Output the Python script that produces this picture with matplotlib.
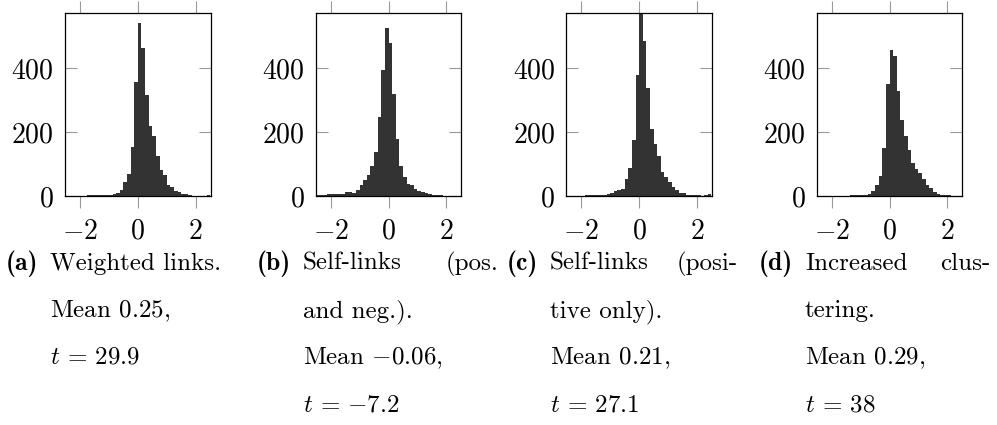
import numpy as np
import matplotlib
matplotlib.use("Agg")
import matplotlib.pyplot as plt

plt.rcParams['mathtext.fontset'] = 'cm'
plt.rcParams['font.family'] = 'cmr10'
plt.rcParams['axes.unicode_minus'] = False

# histogram bins (shared by all four panels)
bin_edges = np.linspace(-2.5, 2.5, 41)

counts_a = [1, 1, 2, 1, 1, 2, 4, 4, 3, 3, 3, 4, 5, 7, 10, 19, 44, 71, 154, 358,
            541, 463, 317, 220, 188, 125, 82, 68, 34, 30, 16, 13, 7, 6, 4, 2, 2, 1, 2, 5]
counts_b = [5, 3, 3, 8, 8, 7, 7, 7, 13, 13, 10, 20, 35, 52, 68, 96, 138, 248, 396, 527,
            478, 319, 178, 94, 61, 40, 35, 24, 18, 14, 9, 6, 5, 4, 3, 2, 2, 2, 1, 1]
counts_c = [2, 2, 2, 2, 2, 3, 3, 4, 4, 4, 4, 6, 11, 18, 21, 23, 54, 87, 177, 380,
            600, 485, 337, 209, 162, 126, 76, 59, 44, 28, 20, 11, 9, 5, 4, 3, 3, 2, 3, 6]
counts_d = [2, 2, 2, 2, 2, 2, 2, 2, 2, 3, 3, 3, 4, 5, 7, 18, 35, 65, 152, 352,
            456, 440, 328, 240, 188, 146, 105, 85, 72, 54, 35, 25, 15, 6, 4, 3, 3, 2, 2, 2]
all_counts = [counts_a, counts_b, counts_c, counts_d]

x_ticks = [-2, 0, 2]
y_ticks = [0, 200, 400]

sub_labels = ['(a)', '(b)', '(c)', '(d)']
first_lines = [['Weighted links.'], ['Self-links', '(pos.'],
               ['Self-links', '(posi-'], ['Increased', 'clus-']]
other_lines = [['Mean $0.25$,', r'$t\,=\,29.9$'],
               ['and neg.).', 'Mean $-0.06$,', r'$t\,=\,{-7.2}$'],
               ['tive only).', 'Mean $0.21$,', r'$t\,=\,27.1$'],
               ['tering.', 'Mean $0.29$,', r'$t\,=\,38$']]

W, H = 997, 425
fig = plt.figure(figsize=(W / 100, H / 100), dpi=100)

ax_left = [65, 315.7, 566.3, 816.7]
text_left = [50, 303, 550, 805]
text_right = [222, 498, 738, 990]
ax_top, ax_bot, ax_w = 13.3, 196.3, 145.7

for i, counts in enumerate(all_counts):
    ax = fig.add_axes([ax_left[i] / W, 1 - ax_bot / H, ax_w / W, (ax_bot - ax_top) / H])
    ax.bar(bin_edges[:-1], counts, width=np.diff(bin_edges), align='edge',
           color='#333333', linewidth=0)
    ax.set_xlim(-2.52, 2.52)
    ax.set_ylim(0, 572)
    ax.set_xticks(x_ticks)
    ax.set_xticklabels(['$%d$' % v for v in x_ticks])
    ax.set_yticks(y_ticks)
    ax.set_yticklabels(['$%d$' % v for v in y_ticks])
    ax.tick_params(axis='x', direction='out', top=True, length=8.4, width=0.8,
                   color='#999999', labelsize=20, pad=7.5)
    ax.tick_params(axis='y', direction='in', right=True, length=8.4, width=0.8,
                   color='#999999', labelsize=20, pad=8)
    for s in ax.spines.values():
        s.set_linewidth(0.9)
        s.set_color('black')

    # caption below the panel
    base = 270
    step = 47
    fig.text((text_left[i] - 12) / W, 1 - base / H, sub_labels[i], family='cmb10',
             fontsize=18.5, ha='right', va='baseline')
    words = first_lines[i]
    fig.text(text_left[i] / W, 1 - base / H, words[0], fontsize=18, ha='left', va='baseline')
    if len(words) > 1:
        fig.text(text_right[i] / W, 1 - base / H, words[1], fontsize=18,
                 ha='right', va='baseline')
    for j, line in enumerate(other_lines[i]):
        fig.text(text_left[i] / W, 1 - (base + step * (j + 1)) / H, line, fontsize=18,
                 ha='left', va='baseline')

fig.savefig('out.png', dpi=100)
